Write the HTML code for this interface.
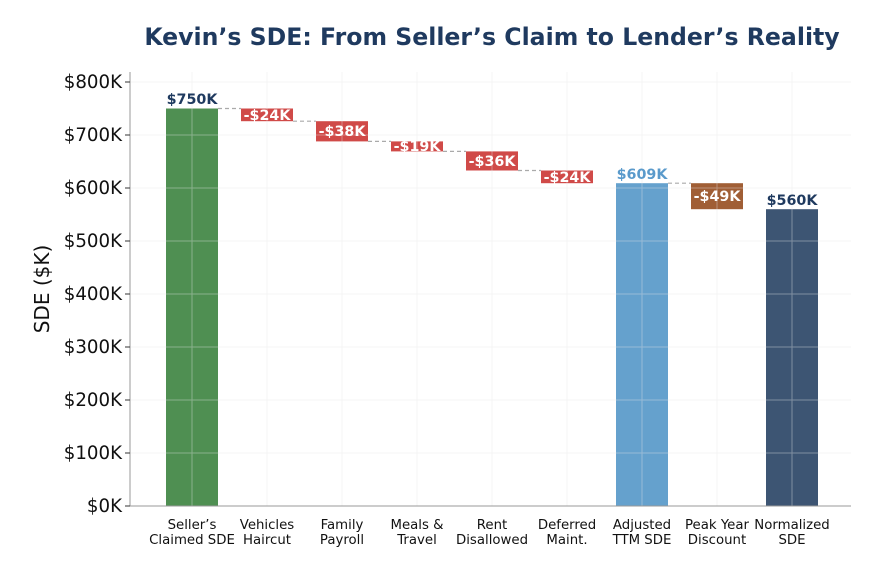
<!DOCTYPE html>
<html><head><meta charset="utf-8"><style>
body{margin:0;background:#fff}
svg text{font-family:"DejaVu Sans","Liberation Sans",sans-serif}
</style></head><body>
<svg width="885" height="573" viewBox="0 0 885 573" xmlns="http://www.w3.org/2000/svg">
<rect width="885" height="573" fill="#fff"/>
<text x="492" y="45" text-anchor="middle" font-size="23.6" font-weight="bold" fill="#1f3a5f">Kevin’s SDE: From Seller’s Claim to Lender’s Reality</text>
<rect x="166" y="108.5" width="52" height="397.5" fill="#4f8f52"/>
<rect x="241" y="108.5" width="52" height="12.7" fill="#d04a48"/>
<rect x="316" y="121.2" width="52" height="20.2" fill="#d04a48"/>
<rect x="391" y="141.4" width="52" height="10" fill="#d04a48"/>
<rect x="466" y="151.4" width="52" height="19.1" fill="#d04a48"/>
<rect x="541" y="170.5" width="52" height="12.7" fill="#d04a48"/>
<rect x="616" y="183.2" width="52" height="322.8" fill="#65a1cd"/>
<rect x="691" y="183.2" width="52" height="26" fill="#a05e35"/>
<rect x="766" y="209.2" width="52" height="296.8" fill="#3d5573"/>
<g stroke="#e4e4e4" stroke-width="1" opacity="0.4">
<line x1="130" x2="851" y1="82" y2="82"/><line x1="130" x2="851" y1="135" y2="135"/><line x1="130" x2="851" y1="188" y2="188"/><line x1="130" x2="851" y1="241" y2="241"/><line x1="130" x2="851" y1="294" y2="294"/><line x1="130" x2="851" y1="347" y2="347"/><line x1="130" x2="851" y1="400" y2="400"/><line x1="130" x2="851" y1="453" y2="453"/>
<line y1="72" y2="506" x1="192" x2="192"/><line y1="72" y2="506" x1="267" x2="267"/><line y1="72" y2="506" x1="342" x2="342"/><line y1="72" y2="506" x1="417" x2="417"/><line y1="72" y2="506" x1="492" x2="492"/><line y1="72" y2="506" x1="567" x2="567"/><line y1="72" y2="506" x1="642" x2="642"/><line y1="72" y2="506" x1="717" x2="717"/><line y1="72" y2="506" x1="792" x2="792"/>
</g>
<g stroke="#aaa" stroke-width="1.2" stroke-dasharray="4,3">
<line x1="218" x2="241" y1="108.5" y2="108.5"/><line x1="293" x2="316" y1="121.2" y2="121.2"/><line x1="368" x2="391" y1="141.4" y2="141.4"/><line x1="443" x2="466" y1="151.4" y2="151.4"/><line x1="518" x2="541" y1="170.5" y2="170.5"/><line x1="668" x2="691" y1="183.2" y2="183.2"/>
</g>
<line x1="130" x2="130" y1="72" y2="506" stroke="#999"/>
<line x1="130" x2="851" y1="506" y2="506" stroke="#999"/>
<g stroke="#333"><line x1="125" x2="130" y1="82" y2="82"/><line x1="125" x2="130" y1="135" y2="135"/><line x1="125" x2="130" y1="188" y2="188"/><line x1="125" x2="130" y1="241" y2="241"/><line x1="125" x2="130" y1="294" y2="294"/><line x1="125" x2="130" y1="347" y2="347"/><line x1="125" x2="130" y1="400" y2="400"/><line x1="125" x2="130" y1="453" y2="453"/><line x1="125" x2="130" y1="506" y2="506"/></g>
<g font-size="18.2" fill="#111" text-anchor="end">
<text x="122" y="88">$800K</text><text x="122" y="141">$700K</text><text x="122" y="194">$600K</text><text x="122" y="247">$500K</text><text x="122" y="300">$400K</text><text x="122" y="353">$300K</text><text x="122" y="406">$200K</text><text x="122" y="459">$100K</text><text x="122" y="512">$0K</text>
</g>
<text transform="translate(49,289) rotate(-90)" text-anchor="middle" font-size="20" fill="#111">SDE ($K)</text>
<g font-size="13.3" fill="#111" text-anchor="middle">
<text x="192" y="529">Seller’s</text><text x="192" y="544">Claimed SDE</text>
<text x="267" y="529">Vehicles</text><text x="267" y="544">Haircut</text>
<text x="342" y="529">Family</text><text x="342" y="544">Payroll</text>
<text x="417" y="529">Meals &amp;</text><text x="417" y="544">Travel</text>
<text x="492" y="529">Rent</text><text x="492" y="544">Disallowed</text>
<text x="567" y="529">Deferred</text><text x="567" y="544">Maint.</text>
<text x="642" y="529">Adjusted</text><text x="642" y="544">TTM SDE</text>
<text x="717" y="529">Peak Year</text><text x="717" y="544">Discount</text>
<text x="792" y="529">Normalized</text><text x="792" y="544">SDE</text>
</g>
<g font-size="14.3" font-weight="bold" text-anchor="middle">
<text x="192" y="104" fill="#1f3a5f">$750K</text>
<text x="642" y="179" fill="#5a9acb">$609K</text>
<text x="792" y="205" fill="#1f3a5f">$560K</text>
<g fill="#fff">
<text x="267" y="120">-$24K</text><text x="342" y="136">-$38K</text><text x="417" y="151">-$19K</text><text x="492" y="166">-$36K</text><text x="567" y="182">-$24K</text><text x="717" y="201">-$49K</text>
</g></g>
</svg>
</body></html>
